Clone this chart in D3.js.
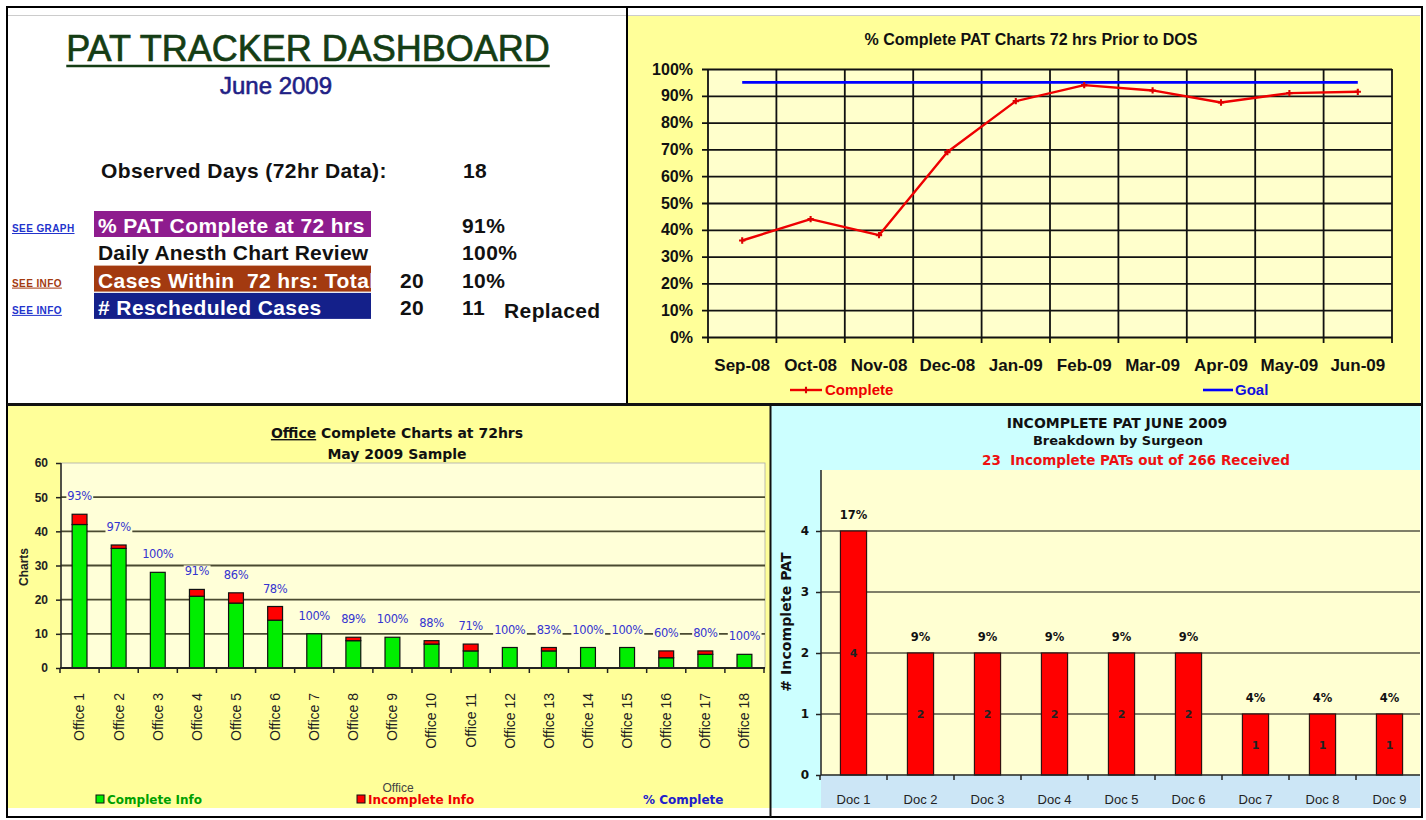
<!DOCTYPE html>
<html>
<head>
  <title>PAT Tracker Dashboard</title>
  <script src="https://d3js.org/d3.v7.min.js"></script>
  <style>
    body { margin: 0; background: #fff; }
    svg { display: block; font-family: "Liberation Sans", Arial, sans-serif; }
    .verd { font-family: "DejaVu Sans", Verdana, sans-serif; }
    .axis .domain { display: none; }
  </style>
</head>
<body>
<script>
  var width = 1426,
      height = 820;

  // ---- summary block (top left) ----
  var observedDays = '18';
  var rowLabels = ['% PAT Complete at 72 hrs', 'Daily Anesth Chart Review', 'Cases Within  72 hrs: Total', '# Rescheduled Cases'];
  var rowTotals = ['', '', '20', '20'];
  var rowValues = ['91%', '100%', '10%', '11'];
  var rowLinks = ['SEE GRAPH', '', 'SEE INFO', 'SEE INFO'];

  // ---- line chart ----
  var months = ['Sep-08', 'Oct-08', 'Nov-08', 'Dec-08', 'Jan-09', 'Feb-09', 'Mar-09', 'Apr-09', 'May-09', 'Jun-09'];
  var completePct = [0.36, 0.44, 0.38, 0.69, 0.88, 0.94, 0.92, 0.875, 0.91, 0.915];
  var goalPct = [0.95, 0.95, 0.95, 0.95, 0.95, 0.95, 0.95, 0.95, 0.95, 0.95];

  // ---- office bar chart ----
  var offices = ['Office 1', 'Office 2', 'Office 3', 'Office 4', 'Office 5', 'Office 6', 'Office 7', 'Office 8', 'Office 9',
                 'Office 10', 'Office 11', 'Office 12', 'Office 13', 'Office 14', 'Office 15', 'Office 16', 'Office 17', 'Office 18'];
  var completeInfo = [42, 35, 28, 21, 19, 14, 10, 8, 9, 7, 5, 6, 5, 6, 6, 3, 4, 4];
  var incompleteInfo = [3, 1, 0, 2, 3, 4, 0, 1, 0, 1, 2, 0, 1, 0, 0, 2, 1, 0];
  var pctComplete = ['93%', '97%', '100%', '91%', '86%', '78%', '100%', '89%', '100%', '88%', '71%', '100%', '83%', '100%', '100%', '60%', '80%', '100%'];

  // ---- surgeon bar chart ----
  var doctors = ['Doc 1', 'Doc 2', 'Doc 3', 'Doc 4', 'Doc 5', 'Doc 6', 'Doc 7', 'Doc 8', 'Doc 9'];
  var incompleteCounts = [4, 2, 2, 2, 2, 2, 1, 1, 1];
  var incompleteTotal = 23,
      receivedTotal = 266;

  var svg = d3.select('body')
    .append('svg')
    .attr('width', width)
    .attr('height', height);

  // panel backgrounds
  svg.append('rect').attr('x', 8).attr('y', 8).attr('width', 619).attr('height', 396).attr('fill', '#fff');
  svg.append('rect').attr('x', 628).attr('y', 16).attr('width', 792).attr('height', 388).attr('fill', '#ffff99');
  svg.append('rect').attr('x', 8).attr('y', 405).attr('width', 762).attr('height', 403).attr('fill', '#ffff99');
  svg.append('rect').attr('x', 771).attr('y', 405).attr('width', 649).attr('height', 403).attr('fill', '#ccffff');
  svg.append('line').attr('x1', 8).attr('x2', 1420).attr('y1', 15.5).attr('y2', 15.5).attr('stroke', '#ccc');

  // ================= top left: summary =================
  var tl = svg.append('g');
  var title = tl.append('text')
    .attr('x', 308).attr('y', 61)
    .attr('text-anchor', 'middle')
    .attr('font-size', 36)
    .attr('fill', '#143d14')
    .attr('stroke', '#143d14').attr('stroke-width', 0.7)
    .text('PAT TRACKER DASHBOARD');
  var tw = title.node().getComputedTextLength();
  tl.append('line')
    .attr('x1', 308 - tw / 2).attr('x2', 308 + tw / 2)
    .attr('y1', 66).attr('y2', 66)
    .attr('stroke', '#143d14').attr('stroke-width', 2.5);

  tl.append('text')
    .attr('x', 276).attr('y', 94)
    .attr('text-anchor', 'middle')
    .attr('font-size', 24)
    .attr('fill', '#1f1f86')
    .attr('stroke', '#1f1f86').attr('stroke-width', 0.6)
    .text('June 2009');

  var rowFont = function(sel) {
    return sel.attr('font-size', 21).attr('font-weight', 'bold').attr('letter-spacing', 0.4);
  };

  rowFont(tl.append('text').attr('x', 101).attr('y', 178)).attr('fill', '#111')
    .text('Observed Days (72hr Data):');
  rowFont(tl.append('text').attr('x', 463).attr('y', 178)).attr('fill', '#111')
    .text(observedDays);

  var boxFills = ['#8e1c8e', null, '#a33a10', '#14208a'];
  var linkColors = ['#2233cc', null, '#a33a10', '#2233cc'];

  tl.append('clipPath').attr('id', 'boxclip')
    .append('rect').attr('x', 94).attr('y', 200).attr('width', 277).attr('height', 130);

  rowLabels.forEach(function(label, i) {
    var base = 233 + i * 27.3;
    if (boxFills[i]) {
      tl.append('rect')
        .attr('x', 94).attr('y', base - 22)
        .attr('width', 277).attr('height', 26)
        .attr('fill', boxFills[i]);
    }
    rowFont(tl.append('text'))
      .attr('x', 98).attr('y', base)
      .attr('clip-path', boxFills[i] ? 'url(#boxclip)' : null)
      .attr('letter-spacing', boxFills[i] ? 0.4 : 0.2)
      .style('white-space', 'pre')
      .attr('fill', boxFills[i] ? '#fff' : '#111')
      .text(label);
    if (rowTotals[i]) {
      rowFont(tl.append('text')).attr('x', 400).attr('y', base).attr('fill', '#111')
        .text(rowTotals[i]);
    }
    rowFont(tl.append('text')).attr('x', 462).attr('y', base).attr('fill', '#111')
      .text(rowValues[i]);
    if (rowLinks[i]) {
      tl.append('text').attr('x', 12).attr('y', base - 1)
        .attr('font-size', 10).attr('font-weight', 'bold').attr('letter-spacing', 0.4)
        .attr('text-decoration', 'underline')
        .attr('fill', linkColors[i])
        .text(rowLinks[i]);
    }
  });
  rowFont(tl.append('text')).attr('x', 504).attr('y', 318).attr('fill', '#111')
    .text('Replaced');

  // ================= top right: line chart =================
  var lx = d3.scaleBand().domain(months).range([708, 1392]);
  var ly = d3.scaleLinear().domain([0, 1]).range([337, 69]);
  var lc = svg.append('g');

  lc.append('rect')
    .attr('x', 708).attr('y', 69)
    .attr('width', 684).attr('height', 268)
    .attr('fill', '#ffffcc');

  lc.append('text')
    .attr('x', 1031).attr('y', 45)
    .attr('text-anchor', 'middle')
    .attr('font-size', 16).attr('font-weight', 'bold').attr('fill', '#111')
    .text('% Complete PAT Charts 72 hrs Prior to DOS');

  // horizontal grid + y labels
  var yAxis = lc.append('g')
    .attr('class', 'axis')
    .attr('transform', 'translate(702,0)')
    .call(d3.axisLeft(ly).ticks(10).tickFormat(d3.format('.0%')).tickSize(-690).tickPadding(9));
  yAxis.selectAll('line').attr('stroke', '#111').attr('stroke-width', 1.8);
  yAxis.selectAll('text').attr('font-size', 16).attr('font-weight', 'bold').attr('fill', '#111')
    .attr('font-family', '"Liberation Sans", Arial, sans-serif');

  // vertical grid at category boundaries
  var bounds = months.map(function(m) { return lx(m); }).concat([lx.range()[1]]);
  lc.selectAll('.vgrid')
    .data(bounds)
    .enter()
    .append('line')
    .attr('x1', function(d) { return d; })
    .attr('x2', function(d) { return d; })
    .attr('y1', 69).attr('y2', 343)
    .attr('stroke', '#111').attr('stroke-width', 1.8);

  var xAxis = lc.append('g')
    .attr('class', 'axis')
    .attr('transform', 'translate(0,337)')
    .call(d3.axisBottom(lx).tickSize(0).tickPadding(22));
  xAxis.selectAll('text').attr('font-size', 17).attr('font-weight', 'bold').attr('fill', '#111')
    .attr('font-family', '"Liberation Sans", Arial, sans-serif');

  var cx = function(d, i) { return lx(months[i]) + lx.bandwidth() / 2; };

  var goalLine = d3.line()
    .x(cx)
    .y(function(d) { return ly(d); });
  lc.append('path')
    .datum(goalPct)
    .attr('d', goalLine)
    .attr('fill', 'none')
    .attr('stroke', '#0000ff')
    .attr('stroke-width', 2.6);

  var completeLine = d3.line()
    .x(cx)
    .y(function(d) { return ly(d); });
  lc.append('path')
    .datum(completePct)
    .attr('d', completeLine)
    .attr('fill', 'none')
    .attr('stroke', '#ee0000')
    .attr('stroke-width', 2.4)
    .attr('stroke-linejoin', 'round');

  lc.selectAll('.mark')
    .data(completePct)
    .enter()
    .append('path')
    .attr('d', d3.symbol().type(d3.symbolCross).size(22))
    .attr('transform', function(d, i) { return 'translate(' + cx(d, i) + ',' + ly(d) + ')'; })
    .attr('fill', '#dd0000');

  // legend
  lc.append('line').attr('x1', 790).attr('x2', 822).attr('y1', 390).attr('y2', 390)
    .attr('stroke', '#ee0000').attr('stroke-width', 2.4);
  lc.append('path').attr('d', d3.symbol().type(d3.symbolCross).size(22))
    .attr('transform', 'translate(806,390)').attr('fill', '#dd0000');
  lc.append('text').attr('x', 825).attr('y', 395)
    .attr('font-size', 15).attr('font-weight', 'bold').attr('fill', '#ee0000')
    .text('Complete');
  lc.append('line').attr('x1', 1203).attr('x2', 1233).attr('y1', 390).attr('y2', 390)
    .attr('stroke', '#0000ff').attr('stroke-width', 2.6);
  lc.append('text').attr('x', 1235).attr('y', 395)
    .attr('font-size', 15).attr('font-weight', 'bold').attr('fill', '#1010dd')
    .text('Goal');

  // ================= bottom left: office bars =================
  var bx = d3.scaleBand().domain(offices).range([60, 764]);
  var by = d3.scaleLinear().domain([0, 60]).range([668, 463]);
  var bc = svg.append('g');
  var plotBg = '#ffffd8';

  bc.append('rect')
    .attr('x', 61).attr('y', 463)
    .attr('width', 704).attr('height', 205)
    .attr('fill', plotBg)
    .attr('stroke', '#aaa').attr('stroke-width', 0.8);

  var titleOffice = bc.append('text')
    .attr('class', 'verd')
    .attr('x', 397).attr('y', 438)
    .attr('text-anchor', 'middle')
    .attr('font-size', 14).attr('font-weight', 'bold').attr('fill', '#111');
  titleOffice.append('tspan').attr('text-decoration', 'underline').text('Office');
  titleOffice.append('tspan').text(' Complete Charts at 72hrs');
  bc.append('text')
    .attr('class', 'verd')
    .attr('x', 397).attr('y', 459)
    .attr('text-anchor', 'middle')
    .attr('font-size', 14).attr('font-weight', 'bold').attr('fill', '#111')
    .text('May 2009 Sample');

  bc.selectAll('.grid')
    .data(by.ticks(6).filter(function(d) { return d > 0 && d < 60; }))
    .enter()
    .append('line')
    .attr('x1', 61).attr('x2', 765)
    .attr('y1', by).attr('y2', by)
    .attr('stroke', '#4a4a30').attr('stroke-width', 1.8);

  var bAxis = bc.append('g')
    .attr('class', 'axis')
    .attr('transform', 'translate(61,0)')
    .call(d3.axisLeft(by).ticks(6).tickSize(5).tickPadding(8));
  bAxis.selectAll('line').attr('stroke', '#222').attr('stroke-width', 1.5);
  bAxis.selectAll('text').attr('font-size', 12).attr('font-weight', 'bold').attr('fill', '#222')
    .attr('font-family', '"Liberation Sans", Arial, sans-serif');
  bc.append('line').attr('x1', 61).attr('x2', 61).attr('y1', 463).attr('y2', 668)
    .attr('stroke', '#222').attr('stroke-width', 1.5);

  bc.append('text')
    .attr('transform', 'translate(28,567) rotate(-90)')
    .attr('text-anchor', 'middle')
    .attr('font-size', 12).attr('font-weight', 'bold').attr('fill', '#222')
    .text('Charts');

  var officeRows = offices.map(function(o, i) {
    return { office: o, complete: completeInfo[i], incomplete: incompleteInfo[i], pct: pctComplete[i] };
  });
  var stacked = d3.stack().keys(['complete', 'incomplete'])(officeRows);
  var barW = bx.bandwidth() * 0.38;
  var barFill = { complete: '#00ee00', incomplete: '#ff0000' };

  stacked.forEach(function(layer) {
    bc.selectAll('.bar-' + layer.key)
      .data(layer.filter(function(d) { return d[1] > d[0]; }))
      .enter()
      .append('rect')
      .attr('x', function(d) { return bx(d.data.office) + (bx.bandwidth() - barW) / 2; })
      .attr('y', function(d) { return by(d[1]); })
      .attr('width', barW)
      .attr('height', function(d) { return by(d[0]) - by(d[1]); })
      .attr('fill', barFill[layer.key])
      .attr('stroke', '#111')
      .attr('stroke-width', 1.2);
  });

  bc.append('line').attr('x1', 60).attr('x2', 765).attr('y1', 668).attr('y2', 668)
    .attr('stroke', '#222').attr('stroke-width', 1.8);
  bc.selectAll('.btick')
    .data(offices.map(function(o) { return bx(o); }).concat([bx.range()[1]]))
    .enter()
    .append('line')
    .attr('x1', function(d) { return d; }).attr('x2', function(d) { return d; })
    .attr('y1', 668).attr('y2', 673)
    .attr('stroke', '#222').attr('stroke-width', 1.5);

  // % complete labels with background to break gridlines
  officeRows.forEach(function(d) {
    var g = bc.append('g');
    var t = g.append('text')
      .attr('class', 'verd')
      .attr('x', bx(d.office) + bx.bandwidth() / 2)
      .attr('y', by(d.complete + d.incomplete) - 14)
      .attr('text-anchor', 'middle')
      .attr('font-size', 11.5).attr('letter-spacing', -0.4)
      .attr('fill', '#3535d0')
      .text(d.pct);
    var bb = t.node().getBBox();
    g.insert('rect', 'text')
      .attr('x', bb.x - 1).attr('y', bb.y + 1)
      .attr('width', bb.width + 2).attr('height', bb.height - 2)
      .attr('fill', plotBg);
  });

  bc.selectAll('.xlab')
    .data(offices)
    .enter()
    .append('text')
    .attr('transform', function(d) { return 'translate(' + (bx(d) + bx.bandwidth() / 2) + ',693) rotate(-90)'; })
    .attr('dy', '0.35em')
    .attr('text-anchor', 'end')
    .attr('font-size', 14).attr('fill', '#222')
    .text(function(d) { return d; });

  bc.append('text').attr('x', 398).attr('y', 792)
    .attr('text-anchor', 'middle')
    .attr('font-size', 12).attr('fill', '#444')
    .text('Office');

  // legend
  bc.append('rect').attr('x', 96).attr('y', 795).attr('width', 8).attr('height', 8)
    .attr('fill', '#00ee00').attr('stroke', '#111');
  bc.append('text').attr('class', 'verd').attr('x', 107).attr('y', 804)
    .attr('font-size', 12).attr('font-weight', 'bold').attr('fill', '#00a000')
    .text('Complete Info');
  bc.append('rect').attr('x', 357).attr('y', 795).attr('width', 8).attr('height', 8)
    .attr('fill', '#ff0000').attr('stroke', '#111');
  bc.append('text').attr('class', 'verd').attr('x', 368).attr('y', 804)
    .attr('font-size', 12).attr('font-weight', 'bold').attr('fill', '#ee0000')
    .text('Incomplete Info');
  bc.append('text').attr('class', 'verd').attr('x', 643).attr('y', 804)
    .attr('font-size', 12).attr('font-weight', 'bold').attr('fill', '#2020cc')
    .text('% Complete');

  // ================= bottom right: surgeon bars =================
  var sx = d3.scaleBand().domain(doctors).range([820, 1423]);
  var sy = d3.scaleLinear().domain([0, 5]).range([775, 470]);
  var sc = svg.append('g');

  sc.append('clipPath').attr('id', 'brclip')
    .append('rect').attr('x', 771).attr('y', 405).attr('width', 649).attr('height', 403);
  var scp = sc.append('g').attr('clip-path', 'url(#brclip)');

  scp.append('rect')
    .attr('x', 821).attr('y', 470)
    .attr('width', 600).attr('height', 305)
    .attr('fill', '#ffffd2');
  scp.append('rect')
    .attr('x', 821).attr('y', 776)
    .attr('width', 600).attr('height', 32)
    .attr('fill', '#cce6f6');

  sc.append('text').attr('class', 'verd')
    .attr('x', 1117).attr('y', 428).attr('text-anchor', 'middle')
    .attr('font-size', 14).attr('font-weight', 'bold').attr('fill', '#111')
    .text('INCOMPLETE PAT JUNE 2009');
  sc.append('text').attr('class', 'verd')
    .attr('x', 1118).attr('y', 445).attr('text-anchor', 'middle')
    .attr('font-size', 13).attr('font-weight', 'bold').attr('fill', '#111')
    .text('Breakdown by Surgeon');
  sc.append('text').attr('class', 'verd')
    .attr('x', 1136).attr('y', 465).attr('text-anchor', 'middle')
    .attr('font-size', 13.5).attr('font-weight', 'bold').attr('fill', '#ee1111')
    .style('white-space', 'pre')
    .text(incompleteTotal + '  Incomplete PATs out of ' + receivedTotal + ' Received');

  scp.selectAll('.sgrid')
    .data([1, 2, 3, 4])
    .enter()
    .append('line')
    .attr('x1', 821).attr('x2', 1420)
    .attr('y1', sy).attr('y2', sy)
    .attr('stroke', '#555544').attr('stroke-width', 1.6);

  var sAxis = sc.append('g')
    .attr('class', 'axis')
    .attr('transform', 'translate(821,0)')
    .call(d3.axisLeft(sy).tickValues([0, 1, 2, 3, 4]).tickFormat(d3.format('d')).tickSize(5).tickPadding(7));
  sAxis.selectAll('line').attr('stroke', '#222').attr('stroke-width', 1.5);
  sAxis.selectAll('text').attr('font-size', 12).attr('font-weight', 'bold').attr('fill', '#111')
    .attr('font-family', '"DejaVu Sans", Verdana, sans-serif');
  sc.append('line').attr('x1', 821).attr('x2', 821).attr('y1', 470).attr('y2', 775)
    .attr('stroke', '#222').attr('stroke-width', 1.5);

  sc.append('text').attr('class', 'verd')
    .attr('transform', 'translate(791,622) rotate(-90)')
    .attr('text-anchor', 'middle')
    .attr('font-size', 14).attr('font-weight', 'bold').attr('letter-spacing', 0.1).attr('fill', '#111')
    .text('# Incomplete PAT');

  var sBarW = sx.bandwidth() * 0.39;
  scp.selectAll('.sbar')
    .data(incompleteCounts)
    .enter()
    .append('rect')
    .attr('x', function(d, i) { return sx(doctors[i]) + (sx.bandwidth() - sBarW) / 2; })
    .attr('y', function(d) { return sy(d); })
    .attr('width', sBarW)
    .attr('height', function(d) { return sy(0) - sy(d); })
    .attr('fill', '#ff0000')
    .attr('stroke', '#331111')
    .attr('stroke-width', 1.2);

  scp.selectAll('.sval')
    .data(incompleteCounts)
    .enter()
    .append('text')
    .attr('class', 'verd')
    .attr('x', function(d, i) { return sx(doctors[i]) + sx.bandwidth() / 2; })
    .attr('y', function(d) { return (sy(d) + sy(0)) / 2 + 4; })
    .attr('text-anchor', 'middle')
    .attr('font-size', 11).attr('font-weight', 'bold').attr('fill', '#222')
    .text(function(d) { return d; });

  scp.selectAll('.spct')
    .data(incompleteCounts)
    .enter()
    .append('text')
    .attr('class', 'verd')
    .attr('x', function(d, i) { return sx(doctors[i]) + sx.bandwidth() / 2; })
    .attr('y', function(d) { return sy(d) - 12; })
    .attr('text-anchor', 'middle')
    .attr('font-size', 11.5).attr('font-weight', 'bold').attr('fill', '#111')
    .text(function(d) { return d3.format('.0%')(d / incompleteTotal); });

  scp.append('line').attr('x1', 821).attr('x2', 1420).attr('y1', 775).attr('y2', 775)
    .attr('stroke', '#222').attr('stroke-width', 1.6);
  scp.selectAll('.stick')
    .data(doctors.map(function(d) { return sx(d); }).concat([sx.range()[1]]))
    .enter()
    .append('line')
    .attr('x1', function(d) { return d; }).attr('x2', function(d) { return d; })
    .attr('y1', 775).attr('y2', 780)
    .attr('stroke', '#222').attr('stroke-width', 1.5);

  scp.selectAll('.slab')
    .data(doctors)
    .enter()
    .append('text')
    .attr('x', function(d) { return sx(d) + sx.bandwidth() / 2; })
    .attr('y', 804)
    .attr('text-anchor', 'middle')
    .attr('font-size', 13).attr('fill', '#222')
    .text(function(d) { return d; });

  // ================= frame lines =================
  svg.append('rect').attr('x', 7).attr('y', 7).attr('width', 1415).attr('height', 810)
    .attr('fill', 'none').attr('stroke', '#000').attr('stroke-width', 2);
  svg.append('line').attr('x1', 627).attr('x2', 627).attr('y1', 7).attr('y2', 404)
    .attr('stroke', '#000').attr('stroke-width', 2);
  svg.append('line').attr('x1', 7).attr('x2', 1422).attr('y1', 404.5).attr('y2', 404.5)
    .attr('stroke', '#111').attr('stroke-width', 3);
  svg.append('line').attr('x1', 770.5).attr('x2', 770.5).attr('y1', 404).attr('y2', 817)
    .attr('stroke', '#111').attr('stroke-width', 2);
</script>
</body>
</html>
